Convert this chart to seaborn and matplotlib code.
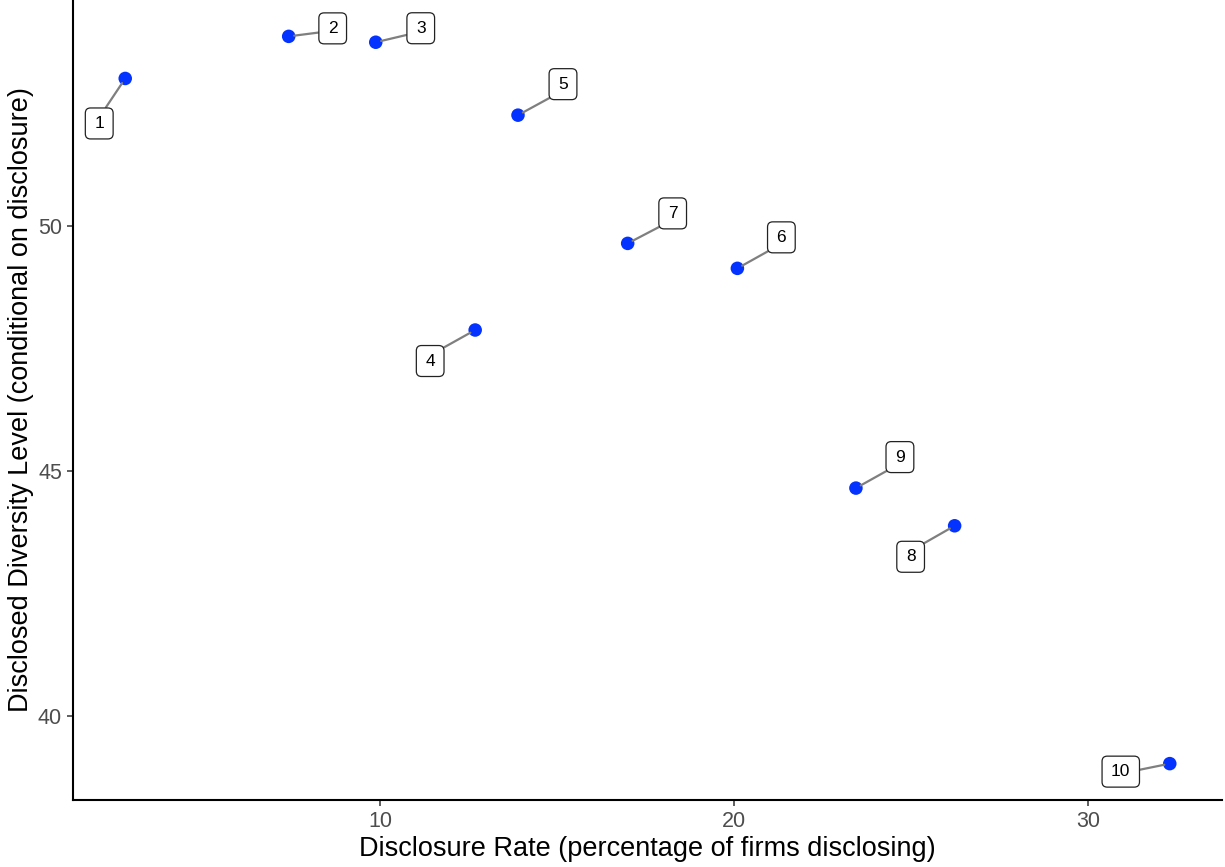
import numpy as np
import pandas as pd
import matplotlib
matplotlib.use("Agg")
import matplotlib.pyplot as plt
from matplotlib.patches import BoxStyle
import seaborn as sns

# values
groups = [1, 2, 3, 4, 5, 6, 7, 8, 9, 10]
disclosure_rate = [2.79, 7.41, 9.87, 12.68, 13.89, 20.09, 16.99, 26.23, 23.44, 32.31]
diversity_level = [53.02, 53.88, 53.76, 47.88, 52.27, 49.14, 49.65, 43.88, 44.65, 39.02]

# label placement (offset of each box from its point, in pixels)
label_dx = [-26, 44, 45, -45, 45, 44, 45, -44, 44, -49]
label_dy = [-45, 8, 14, -31, 31, 31, 30, -31, 31, -8]
# where the segment leaves the label (relative to the text extent)
seg_rel = [(0.6, 1), (0, 0.3), (0, 0.2), (0.8, 1), (0.3, 0), (0.3, 0),
           (0.3, 0), (0.8, 1), (0.3, 0), (1, 0.5)]

df = pd.DataFrame({"rate": disclosure_rate, "level": diversity_level, "group": groups})


def label_box(x0, y0, width, height, mutation_size):
    # rounded box like the ggrepel labels
    ex = 0.06 * mutation_size
    return BoxStyle.Round(pad=0.46, rounding_size=0.3)(x0 - ex, y0, width + 2 * ex,
                                                        height, mutation_size)


sns.set_theme(style="ticks")
plt.rcParams["font.family"] = ["Liberation Sans", "DejaVu Sans"]

fig = plt.figure(figsize=(12.25, 8.67), dpi=100)
ax = fig.add_axes([73 / 1225, 67 / 867, 1149 / 1225, 800 / 867])

sns.scatterplot(data=df, x="rate", y="level", ax=ax, color="#0433FF",
                s=95, edgecolor="none", zorder=3)

for i in range(len(df)):
    ax.annotate(str(df["group"][i]), xy=(df["rate"][i], df["level"][i]),
                xytext=(label_dx[i], label_dy[i]), textcoords="offset pixels",
                ha="center", va="center", fontsize=12.5, color="black",
                bbox=dict(boxstyle=label_box, fc="white", ec="#222222", lw=0.9),
                arrowprops=dict(arrowstyle="-", color="#7F7F7F", lw=1.6,
                                shrinkA=0, shrinkB=4, relpos=seg_rel[i]),
                zorder=4)

# ggplot-like 5% expansion
xr = max(disclosure_rate) - min(disclosure_rate)
yr = max(diversity_level) - min(diversity_level)
ax.set_xlim(min(disclosure_rate) - 0.05 * xr, max(disclosure_rate) + 0.05 * xr)
ax.set_ylim(min(diversity_level) - 0.05 * yr, max(diversity_level) + 0.05 * yr)

ax.set_xticks([10, 20, 30])
ax.set_yticks([40, 45, 50])
ax.tick_params(axis="both", labelsize=15.5, labelcolor="#4D4D4D", color="#333333",
               length=4, width=1.1, pad=4)

ax.set_xlabel("Disclosure Rate (percentage of firms disclosing)", fontsize=19.5,
              color="black", labelpad=3)
ax.set_ylabel("Disclosed Diversity Level (conditional on disclosure)", fontsize=19.5,
              color="black", labelpad=3)

sns.despine(ax=ax)
for side in ["left", "bottom"]:
    ax.spines[side].set_linewidth(1.5)
    ax.spines[side].set_color("black")

fig.savefig("out.png", dpi=100)
